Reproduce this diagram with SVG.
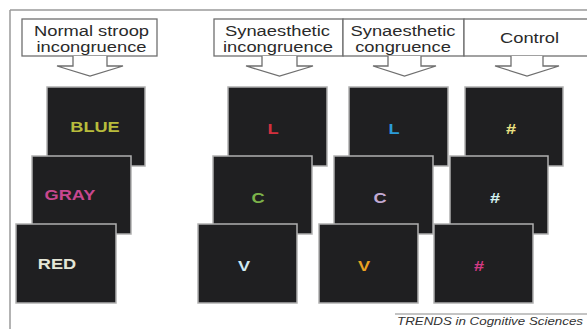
<svg xmlns="http://www.w3.org/2000/svg" width="587" height="329" viewBox="0 0 587 329">
<style>
.frame{stroke:#9a9a9a;stroke-width:1.5;fill:none}
.hbox{fill:#fff;stroke:#6f6f6f;stroke-width:1.3}
.htxt{font-family:"Liberation Sans",Arial,sans-serif;font-size:14px;fill:#2a2a2a;text-anchor:middle}
.arrow{fill:#fff;stroke:#6f6f6f;stroke-width:1.3;stroke-linejoin:miter}
.scr{fill:#1f1f21;stroke:#b0b0b0;stroke-width:1.5}
.stxt{font-family:"Liberation Sans",Arial,sans-serif;font-size:14px;font-weight:bold;text-anchor:middle}
.foot{font-family:"Liberation Sans",Arial,sans-serif;font-size:11px;font-style:italic;fill:#333}
</style>
<rect width="587" height="329" fill="#fff"/>
<g id="frame">
<path class="frame" d="M10,10 H587 M10,10 V329"/>
</g>
<g id="header-normal">
<rect class="hbox" x="22" y="19" width="135" height="37"/>
<text class="htxt" transform="translate(91.5,35.5) scale(1.31,1)">Normal stroop</text>
<text class="htxt" transform="translate(91.5,52) scale(1.31,1)">incongruence</text>
</g>
<g id="header-syn-incong">
<rect class="hbox" x="214" y="19" width="129" height="37"/>
<text class="htxt" transform="translate(277.5,35.5) scale(1.31,1)">Synaesthetic</text>
<text class="htxt" transform="translate(278,52) scale(1.31,1)">incongruence</text>
</g>
<g id="header-syn-cong">
<rect class="hbox" x="343" y="19" width="121" height="37"/>
<text class="htxt" transform="translate(403,35.5) scale(1.31,1)">Synaesthetic</text>
<text class="htxt" transform="translate(403,52) scale(1.31,1)">congruence</text>
</g>
<g id="header-control">
<rect class="hbox" x="464" y="19" width="130" height="37"/>
<text class="htxt" transform="translate(529.5,43) scale(1.31,1)">Control</text>
</g>
<g id="connectors">
<path class="arrow" d="M73,56 V66 H57 L90,76 L123,66 H107 V56"/>
<path class="arrow" d="M262,56 V66 H246 L279.5,76 L313,66 H297 V56"/>
<path class="arrow" d="M388,56 V66 H373 L404.5,76 L436,66 H421 V56"/>
<path class="arrow" d="M511,56 V66 H495 L527,76 L559,66 H543 V56"/>
</g>
<g id="col1">
<g id="screen-blue"><rect class="scr" x="47" y="87" width="98" height="79"/><text class="stxt" fill="#b8bc3c" transform="translate(95,132) scale(1.3,1)">BLUE</text></g>
<g id="screen-gray"><rect class="scr" x="32" y="156" width="99" height="78"/><text class="stxt" fill="#c8478f" transform="translate(70,200) scale(1.3,1)">GRAY</text></g>
<g id="screen-red"><rect class="scr" x="16" y="224" width="100" height="79"/><text class="stxt" fill="#e4e6d6" transform="translate(57,269) scale(1.3,1)">RED</text></g>
</g>
<g id="col2">
<g id="screen-L-red"><rect class="scr" x="228" y="87" width="99" height="79"/><text class="stxt" fill="#d2303e" transform="translate(273,134) scale(1.3,1)">L</text></g>
<g id="screen-C-green"><rect class="scr" x="213" y="156" width="99" height="78"/><text class="stxt" fill="#7cb24a" transform="translate(258,203) scale(1.3,1)">C</text></g>
<g id="screen-V-lightblue"><rect class="scr" x="198" y="224" width="99" height="79"/><text class="stxt" fill="#cfeaf2" transform="translate(244,271) scale(1.3,1)">V</text></g>
</g>
<g id="col3">
<g id="screen-L-blue"><rect class="scr" x="349" y="87" width="99" height="79"/><text class="stxt" fill="#2b9bd8" transform="translate(394,134) scale(1.3,1)">L</text></g>
<g id="screen-C-lavender"><rect class="scr" x="334" y="156" width="99" height="78"/><text class="stxt" fill="#c2a9d2" transform="translate(380,203) scale(1.3,1)">C</text></g>
<g id="screen-V-orange"><rect class="scr" x="319" y="224" width="99" height="79"/><text class="stxt" fill="#e9a222" transform="translate(364,271) scale(1.3,1)">V</text></g>
</g>
<g id="col4">
<g id="screen-hash-yellow"><rect class="scr" x="465" y="87" width="98" height="79"/><text class="stxt" fill="#ebe283" transform="translate(511,134) scale(1.3,1)">#</text></g>
<g id="screen-hash-cyan"><rect class="scr" x="450" y="156" width="98" height="78"/><text class="stxt" fill="#d4f2f2" transform="translate(495,203) scale(1.3,1)">#</text></g>
<g id="screen-hash-magenta"><rect class="scr" x="434" y="224" width="99" height="79"/><text class="stxt" fill="#d23a84" transform="translate(479,271) scale(1.3,1)">#</text></g>
</g>
<g id="footer">
<line x1="395" y1="314" x2="587" y2="314" stroke="#8a8a8a" stroke-width="1.2"/>
<text class="foot" x="0" y="0" textLength="186" lengthAdjust="spacingAndGlyphs" transform="translate(397,324.5)">TRENDS in Cognitive Sciences</text>
</g>
</svg>
